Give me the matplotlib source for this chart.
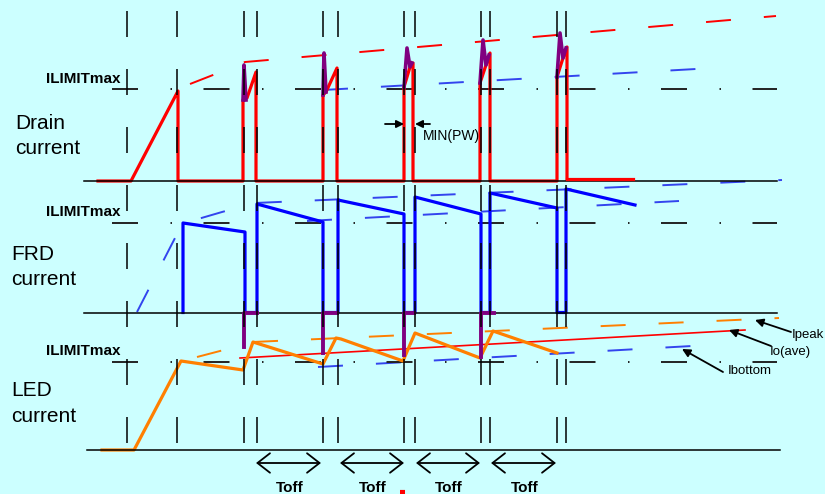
import matplotlib.pyplot as plt

plt.rcParams["font.family"] = "Liberation Sans"
plt.rcParams["lines.scale_dashes"] = False

PX = 72 / 100  # one pixel in points (dpi=100)

# switching instants, shown as dashed time marks across all traces
t_marks = [127, 177, 244, 257, 323, 338, 404, 415, 481, 490, 557, 566]
mark_top, mark_bottom = 11, 443

# panel labels, zero lines and ILIMITmax levels (top to bottom)
panel_names = [("Drain", "current"), ("FRD", "current"), ("LED", "current")]
panel_label_x = [15, 11, 11]
panel_label_base = [(129, 154), (260, 285), (396, 422)]
zero_levels = [181, 312.5, 450]
zero_spans = [(84, 777), (84, 777), (87, 780)]
ilimit_levels = [89.5, 222.5, 361.5]
ilimit_span = (112, 777)

# drain current
drain_t = [98, 131, 178, 178, 243, 243, 247, 256, 256, 323, 323, 326, 337, 337,
           404, 404, 410, 413, 413, 480, 480, 486, 490, 490, 557, 557, 563, 567, 567]
drain_i = [181, 181, 91, 181, 181, 100, 98, 72, 181, 181, 95, 92, 68, 181,
           181, 87, 67, 63, 181, 181, 83, 65, 53, 181, 181, 77, 58, 47, 179]
drain_tail_t = [567, 633]
drain_tail_i = [179.5, 179.5]

# turn-on spikes on the drain current
spike_t = [[243, 244, 246], [323, 324, 326], [404, 407, 410, 412],
           [480, 483, 486, 489], [557, 560, 563, 566]]
spike_i = [[100, 65, 100], [95, 53, 92], [87, 48, 67, 63],
           [83, 40, 65, 55], [77, 33, 58, 48]]

# FRD current
frd_t = [183, 183, 245, 245, 257, 257, 323, 323, 338, 338, 404, 404, 415, 415,
         481, 481, 490, 490, 557, 557, 566, 566, 635]
frd_i = [312.5, 223, 232, 312.5, 312.5, 204, 222, 312.5, 312.5, 200, 214, 312.5,
         312.5, 197, 214, 312.5, 312.5, 193, 208, 312.5, 312.5, 189, 205]

# FRD reverse recovery
rr_t = [[244, 244, 257], [323, 323, 337], [404, 404, 414], [481, 481, 494]]
rr_i = [[347, 312.5, 312.5], [353, 312.5, 312.5], [355, 312.5, 312.5],
        [357, 312.5, 312.5]]

# LED current
led_t = [102, 134, 181, 243, 253, 323, 336, 341, 403, 415, 480, 493, 557]
led_i = [450, 450, 361, 370, 342, 364, 338, 339, 361, 333, 358, 331, 353]

# peak / bottom trend lines
drain_peak_t = [190, 213, 245, 776]
drain_peak_i = [84, 75, 62, 16]
drain_low_t = [323, 696]
drain_low_i = [90, 69]
frd_peak_t = [137, 175, 198, 222, 255, 782]
frd_peak_i = [312, 238, 219, 212, 203, 180]
frd_low_t = [307, 679]
frd_low_i = [221, 201]
led_peak_t = [197, 220, 253, 779]
led_peak_i = [357, 351, 342, 318]
led_bottom_t = [318, 692]
led_bottom_i = [367, 346]
led_avg_t = [240, 745]
led_avg_i = [358, 330]

# Toff intervals
toff_spans = [(256, 321), (340, 404), (416, 480), (491, 556)]
toff_level = 463

# callouts: (text, text x, text baseline, arrow tail, arrow head)
callouts = [("Ipeak", 792, 338, (791, 332), (755, 320)),
            ("Io(ave)", 770, 355, (771, 346), (729, 330)),
            ("Ibottom", 728, 374, (723, 372), (682, 349))]

stray_t = [400, 405]
stray_i = [492, 492]

RED, BLUE, ORANGE, PURPLE = "#ff0000", "#0000ff", "#ff7f00", "#800080"
ENV_DASH = (25 * PX, 33 * PX)

fig = plt.figure(figsize=(8.25, 4.94), dpi=100, facecolor="#ccffff")
ax = fig.add_axes([0, 0, 1, 1])
ax.set_facecolor("#ccffff")
ax.set_xlim(0, 825)
ax.set_ylim(494, 0)
ax.axis("off")

# trend lines
for t, i, c in [(drain_peak_t, drain_peak_i, RED), (drain_low_t, drain_low_i, "#3344ee"),
                (frd_peak_t, frd_peak_i, "#3344ee"), (frd_low_t, frd_low_i, "#3344ee"),
                (led_peak_t, led_peak_i, ORANGE), (led_bottom_t, led_bottom_i, "#3344ee")]:
    ax.plot(t, i, color=c, lw=1.4, dashes=ENV_DASH, solid_capstyle="butt", zorder=2)
ax.plot(led_avg_t, led_avg_i, color=RED, lw=1.2, zorder=2)

# waveforms
ax.plot(drain_t, drain_i, color=RED, lw=2.3, zorder=3)
ax.plot(frd_t, frd_i, color=BLUE, lw=2.3, zorder=3)
ax.plot(led_t, led_i, color=ORANGE, lw=2.3, zorder=3)

# zero lines and ILIMITmax levels
for y, (x0, x1) in zip(zero_levels, zero_spans):
    ax.plot([x0, x1], [y, y], color="black", lw=1.1, zorder=4)
for y in ilimit_levels:
    ax.plot(ilimit_span, [y, y], color="#222222", lw=1.4,
            dashes=(26 * PX, 32.5 * PX, 1.5 * PX, 31.5 * PX), zorder=2)

ax.plot(drain_tail_t, drain_tail_i, color=RED, lw=2.3, zorder=5)
for t, i in zip(spike_t, spike_i):
    ax.plot(t, i, color=PURPLE, lw=2.6, zorder=5)
for t, i in zip(rr_t, rr_i):
    ax.plot(t, i, color=PURPLE, lw=2.8, zorder=5)

# time marks
for x in t_marks:
    ax.plot([x, x], [mark_top, mark_bottom], color="black", lw=1.1,
            dashes=(26 * PX, 32 * PX), zorder=6)

# labels
for (l1, l2), x, (b1, b2) in zip(panel_names, panel_label_x, panel_label_base):
    ax.text(x, b1, l1, fontsize=15, va="baseline", ha="left")
    ax.text(x, b2, l2, fontsize=15, va="baseline", ha="left")
for y in ilimit_levels:
    ax.text(46, y - 6.5, "ILIMITmax", fontsize=11, fontweight="bold",
            va="baseline", ha="left")

# minimum pulse width
ax.annotate("", xy=(404, 124), xytext=(385, 124),
            arrowprops=dict(arrowstyle="-|>", color="black", lw=1.3,
                            mutation_scale=11, shrinkA=0, shrinkB=0))
ax.annotate("", xy=(415, 124), xytext=(430, 124),
            arrowprops=dict(arrowstyle="-|>", color="black", lw=1.3,
                            mutation_scale=11, shrinkA=0, shrinkB=0))
ax.text(423, 140, "MIN(PW)", fontsize=10, va="baseline", ha="left")

for x0, x1 in toff_spans:
    ax.annotate("", xy=(x1, toff_level), xytext=(x0, toff_level),
                arrowprops=dict(arrowstyle="<->,head_length=0.45,head_width=0.35",
                                color="black", lw=1.3, mutation_scale=20,
                                shrinkA=0, shrinkB=0))
    ax.text((x0 + x1) / 2 + 1, 492, "Toff", fontsize=11, fontweight="bold",
            va="baseline", ha="center")

for label, tx, tb, tail, head in callouts:
    ax.annotate("", xy=head, xytext=tail,
                arrowprops=dict(arrowstyle="-|>", color="black", lw=1.3,
                                mutation_scale=12, shrinkA=0, shrinkB=0))
    ax.text(tx, tb, label, fontsize=9.5, va="baseline", ha="left")

ax.plot(stray_t, stray_i, color=RED, lw=3, solid_capstyle="butt")

fig.savefig("out.png", dpi=100, facecolor=fig.get_facecolor())
